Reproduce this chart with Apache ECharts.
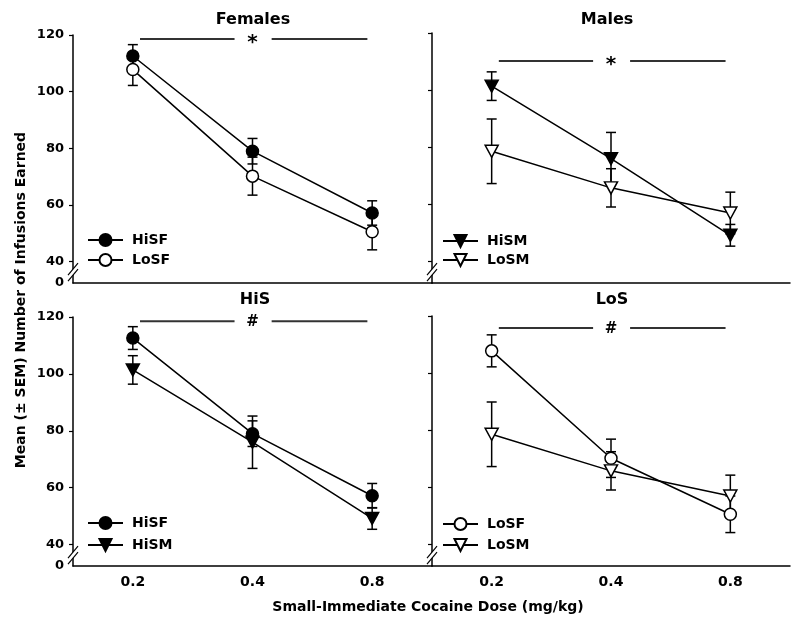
<!DOCTYPE html>
<html><head><meta charset="utf-8">
<script src="https://cdn.jsdelivr.net/npm/echarts@6/dist/echarts.min.js"></script>
<style>html,body{margin:0;padding:0;background:#fff}#c{width:800px;height:631px}</style>
</head><body><div id="c"></div>
<script>
// ---- data ----
const doses = ['0.2', '0.4', '0.8'];
const hiSF = [112.6, 79.0, 57.2];
const hiSFsem = [4.0, 4.5, 4.3];
const loSF = [107.8, 70.2, 50.6];
const loSFsem = [5.6, 6.7, 6.4];
const hiSM = [101.4, 76.0, 49.2];
const hiSMsem = [5.0, 9.2, 3.8];
const loSM = [78.6, 65.8, 57.0];
const loSMsem = [11.3, 6.7, 7.3];
const yTicks = [40, 60, 80, 100, 120];
const yBottomLabel = '0';
const panelTitles = ['Females', 'Males', 'HiS', 'LoS'];
const panelGroups = [['HiSF', 'LoSF'], ['HiSM', 'LoSM'], ['HiSF', 'HiSM'], ['LoSF', 'LoSM']];
const sigMarks = ['*', '*', '#', '#'];
const sigLevels = [118.6, 110.2, 118.5, 115.8];
const sigSpans = [[0.06, 0.85], [1.16, 1.96]];
const sigCenter = 1.0;
const yAxisTitle = 'Mean (\u00b1 SEM) Number of Infusions Earned';
const xAxisTitle = 'Small-Immediate Cocaine Dose (mg/kg)';

// ---- styling / layout ----
const FONT = '"DejaVu Sans", "Liberation Sans", sans-serif';
const Y_MIN = 32.5, Y_MAX = 120;
const BREAK_AT = 36.3;
const seriesDefs = {
  HiSF: {mean: hiSF, sem: hiSFsem, symbol: 'circle', rot: 0, fill: '#000', size: 12},
  LoSF: {mean: loSF, sem: loSFsem, symbol: 'circle', rot: 0, fill: '#fff', size: 12},
  HiSM: {mean: hiSM, sem: hiSMsem, symbol: 'triangle', rot: 180, fill: '#000', size: [13, 12]},
  LoSM: {mean: loSM, sem: loSMsem, symbol: 'triangle', rot: 180, fill: '#fff', size: [13, 12]}
};
const grids = [
  {left: 73, top: 35, width: 359, height: 248},
  {left: 432, top: 33, width: 358, height: 250},
  {left: 73, top: 317, width: 359, height: 249},
  {left: 432, top: 316, width: 358, height: 250}
];
const titlePos = [[253, 20], [607, 20], [255, 300], [612, 300]];
const legendPos = [
  {left: 87, top: 233, itemGap: 6},
  {left: 442, top: 234, itemGap: 5},
  {left: 87, top: 516, itemGap: 8},
  {left: 442, top: 517, itemGap: 7}
];

const chart = echarts.init(document.getElementById('c'), null, {renderer: 'canvas'});

const xAxes = [], yAxes = [], series = [], legends = [], graphics = [];

function errRender(params, api) {
  const x = api.value(0), m = api.value(1), s = api.value(2);
  const top = api.coord([x, m + s]);
  const bot = api.coord([x, m - s]);
  const hw = 5;
  const st = {stroke: '#000', lineWidth: 1.5};
  return {type: 'group', children: [
    {type: 'line', shape: {x1: top[0], y1: top[1], x2: bot[0], y2: bot[1]}, style: st},
    {type: 'line', shape: {x1: top[0] - hw, y1: top[1], x2: top[0] + hw, y2: top[1]}, style: st},
    {type: 'line', shape: {x1: bot[0] - hw, y1: bot[1], x2: bot[0] + hw, y2: bot[1]}, style: st}
  ]};
}

function makeSigRender(mark) {
  return function (params, api) {
    const y = api.value(0);
    const a1 = api.coord([sigSpans[0][0], y]), a2 = api.coord([sigSpans[0][1], y]);
    const b1 = api.coord([sigSpans[1][0], y]), b2 = api.coord([sigSpans[1][1], y]);
    const c = api.coord([sigCenter, y]);
    const st = {stroke: '#333', lineWidth: 2};
    return {type: 'group', children: [
      {type: 'line', shape: {x1: a1[0], y1: a1[1], x2: a2[0], y2: a2[1]}, style: st},
      {type: 'line', shape: {x1: b1[0], y1: b1[1], x2: b2[0], y2: b2[1]}, style: st},
      {type: 'text', x: c[0], y: mark === '*' ? c[1] + 4 : c[1] + 1, style: {
        text: mark, fill: '#000', font: 'bold ' + (mark === '*' ? 20 : 15) + 'px ' + FONT,
        align: 'center', verticalAlign: 'middle', textAlign: 'center', textVerticalAlign: 'middle'}}
    ]};
  };
}

function breakRender(params, api) {
  const p = api.coord([api.value(0), api.value(1)]);
  const x = p[0], y = p[1];
  const dx = 5, dy = 6, gap = 3;
  const st = {stroke: '#000', lineWidth: 1.2};
  return {type: 'group', children: [
    {type: 'polygon', shape: {points: [[x - dx, y + dy - gap], [x + dx, y - dy - gap], [x + dx, y - dy + gap], [x - dx, y + dy + gap]]},
      style: {fill: '#fff', stroke: null}},
    {type: 'line', shape: {x1: x - dx, y1: y + dy - gap, x2: x + dx, y2: y - dy - gap}, style: st},
    {type: 'line', shape: {x1: x - dx, y1: y + dy + gap, x2: x + dx, y2: y - dy + gap}, style: st}
  ]};
}

grids.forEach(function (g, i) {
  const isBottom = i >= 2, isLeft = i % 2 === 0;
  xAxes.push({
    gridIndex: i, type: 'value', min: -0.5, max: 2.5,
    axisLine: {show: true, onZero: false, lineStyle: {color: '#000', width: 1.5}},
    axisTick: {show: false},
    splitLine: {show: false},
    axisLabel: {
      show: isBottom, customValues: [0, 1, 2],
      formatter: function (v) { return doses[Math.round(v)]; },
      fontFamily: FONT, fontWeight: 'bold', fontSize: 14, color: '#000', margin: 9
    }
  });
  yAxes.push({
    gridIndex: i, type: 'value', min: Y_MIN, max: Y_MAX,
    axisLine: {show: true, onZero: false, lineStyle: {color: '#000', width: 1.5}},
    axisTick: {show: true, length: 4, customValues: yTicks, lineStyle: {color: '#000', width: 1.2}},
    splitLine: {show: false},
    axisLabel: {
      show: isLeft, customValues: [Y_MIN].concat(yTicks),
      formatter: function (v) { return v < yTicks[0] ? yBottomLabel : String(v); },
      fontFamily: FONT, fontWeight: 'bold', fontSize: 13, color: '#000', margin: 9
    }
  });
  // error bars
  const errData = [];
  panelGroups[i].forEach(function (name) {
    const d = seriesDefs[name];
    d.mean.forEach(function (m, k) { errData.push([k, m, d.sem[k]]); });
  });
  series.push({type: 'custom', xAxisIndex: i, yAxisIndex: i, renderItem: errRender, data: errData, z: 1, silent: true, clip: false});
  // lines
  panelGroups[i].forEach(function (name) {
    const d = seriesDefs[name];
    series.push({
      type: 'line', name: name, xAxisIndex: i, yAxisIndex: i,
      data: d.mean.map(function (m, k) { return [k, m]; }),
      symbol: d.symbol, symbolSize: d.size, symbolRotate: d.rot, showAllSymbol: true,
      lineStyle: {color: '#000', width: 1.5},
      itemStyle: {color: d.fill, borderColor: '#000', borderWidth: 1.5},
      emphasis: {disabled: true}, animation: false, z: 3
    });
  });
  // significance bar
  series.push({type: 'custom', xAxisIndex: i, yAxisIndex: i, renderItem: makeSigRender(sigMarks[i]), data: [[sigLevels[i]]], z: 2, silent: true, clip: false});
  // axis break
  series.push({type: 'custom', xAxisIndex: i, yAxisIndex: i, renderItem: breakRender, data: [[-0.5, BREAK_AT]], z: 5, silent: true, clip: false});

  legends.push({
    left: legendPos[i].left, top: legendPos[i].top, orient: 'vertical', padding: 0,
    itemGap: legendPos[i].itemGap, itemWidth: 35, itemHeight: 15,
    selectedMode: false, data: panelGroups[i],
    textStyle: {fontFamily: FONT, fontWeight: 'bold', fontSize: 14, color: '#000', padding: [0, 0, 0, 4]}
  });
  graphics.push({type: 'text', x: titlePos[i][0], y: titlePos[i][1], style: {
    text: panelTitles[i], fill: '#000', font: 'bold 16px ' + FONT,
    align: 'center', verticalAlign: 'middle', textAlign: 'center', textVerticalAlign: 'middle'}});
});

graphics.push({type: 'text', x: 21, y: 300, rotation: Math.PI / 2, style: {
  text: yAxisTitle, fill: '#000', font: 'bold 14px ' + FONT,
  align: 'center', verticalAlign: 'middle', textAlign: 'center', textVerticalAlign: 'middle'}});
graphics.push({type: 'text', x: 428, y: 607, style: {
  text: xAxisTitle, fill: '#000', font: 'bold 14px ' + FONT,
  align: 'center', verticalAlign: 'middle', textAlign: 'center', textVerticalAlign: 'middle'}});

chart.setOption({
  animation: false,
  backgroundColor: '#fff',
  grid: grids,
  xAxis: xAxes,
  yAxis: yAxes,
  legend: legends,
  series: series,
  graphic: graphics
});
</script>
</body></html>
